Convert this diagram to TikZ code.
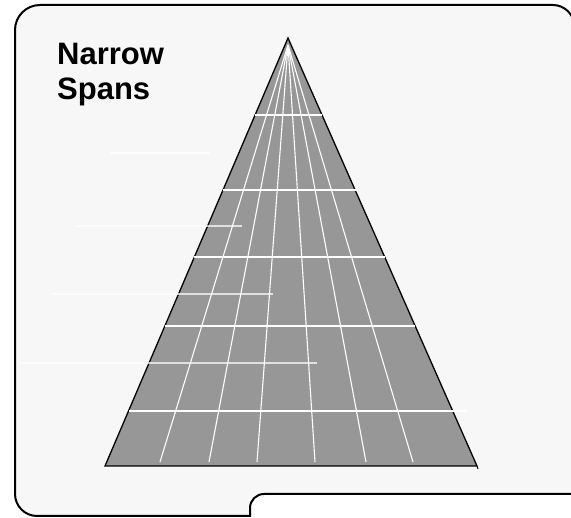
\documentclass[tikz,border=0pt]{standalone}
\usepackage{fontspec}
\setmainfont{Liberation Sans}
\begin{document}
\begin{tikzpicture}[x=1pt,y=-1pt,
  frame/.style={draw=black,line width=2pt,fill=bgc},
  cone/.style={draw=black,line width=1.3pt,fill=conegray,line join=miter},
  gridline/.style={draw=white,line width=1.1pt},
  spanline/.style={draw=white,draw opacity=0.7,line width=1.4pt},
  title/.style={font=\bfseries\fontsize{31}{31}\selectfont,inner sep=0pt,anchor=base west}]
\definecolor{bgc}{HTML}{F7F7F7}
\definecolor{conegray}{HTML}{979797}
\useasboundingbox (0,0) rectangle (571,518);
\clip (0,0) rectangle (571,518);
\fill[white] (0,0) rectangle (571,518);
% frame
\path[frame] (574,494) -- (264,494) .. controls (256.3,494) and (250,500.3) .. (250,508)
  -- (250,516) -- (37,516) .. controls (24.9,516) and (15,506.1) .. (15,494)
  -- (15,30) .. controls (15,16.2) and (26.2,5) .. (40,5)
  -- (553,5) .. controls (564,5) and (574,14) .. (574,25) -- cycle;
% cone
\coordinate (apex) at (288,38);
\coordinate (bl) at (105,466);
\coordinate (br) at (477,466);
\coordinate (focus) at (288,45);
\path[cone] (apex) -- (bl) -- (br) -- cycle;
\draw[line width=1pt] (br) -- (478,469);
% radial lines
\foreach \e [count=\i] in {160,209,257,315,366,413}{
  \coordinate (r\i) at (\e,462);
  \draw[gridline] (focus) -- (r\i);
}
% grid lines spanning the cone
\foreach \y/\l/\r [count=\i] in {115/255.1/322, 190/223/357, 257/194.4/384.7, 326/164.9/415.2, 411/128.5/467}{
  \coordinate (gl\i) at (\l,\y);
  \coordinate (gr\i) at (\r,\y);
  \draw[gridline] (gl\i) -- (gr\i);
}
% span lines from the left
\foreach \y/\l/\r [count=\i] in {153/110/210, 226/77/242, 294/51/273, 363/20/317}{
  \coordinate (sl\i) at (\l,\y);
  \coordinate (sr\i) at (\r,\y);
  \draw[spanline] (sl\i) -- (sr\i);
}
% title
\node[title] (t1) at (57,65) {Narrow};
\node[title] (t2) at (57,100) {Spans};
\end{tikzpicture}
\end{document}
